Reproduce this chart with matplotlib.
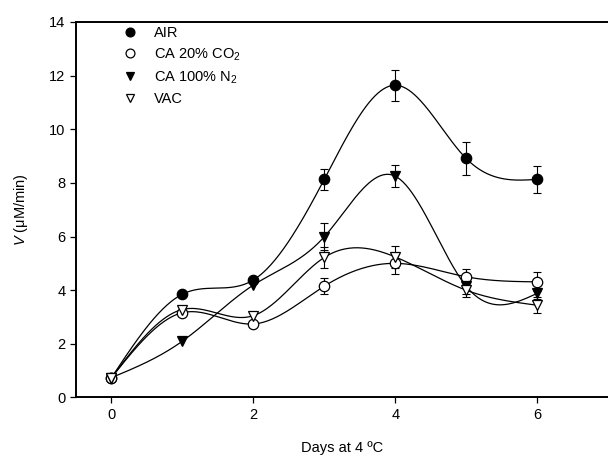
"""V vs days at 4 C, four storage atmospheres."""
import numpy as np
import matplotlib
matplotlib.use('Agg')
import matplotlib.pyplot as plt

plt.rcParams['font.family'] = ['Liberation Sans', 'DejaVu Sans']
plt.rcParams['font.size'] = 10.5
plt.rcParams['mathtext.fontset'] = 'custom'
plt.rcParams['mathtext.rm'] = 'Liberation Sans'
plt.rcParams['mathtext.it'] = 'Liberation Sans:italic'

days = [0, 1, 2, 3, 4, 5, 6]

air = [0.74, 3.85, 4.38, 8.13, 11.64, 8.91, 8.13]
air_err = [0, 0, 0, 0.4, 0.57, 0.6, 0.5]

co2 = [0.74, 3.16, 2.74, 4.15, 5.0, 4.5, 4.31]
co2_err = [0, 0, 0, 0.3, 0.4, 0.3, 0.35]

n2 = [0.74, 2.1, 4.19, 5.99, 8.25, 4.15, 3.88]
n2_err = [0, 0, 0, 0.5, 0.4, 0.3, 0.2]

vac = [0.74, 3.28, 3.05, 5.22, 5.24, 4.0, 3.44]
vac_err = [0, 0, 0, 0.4, 0.4, 0.25, 0.3]


def spline(x, y, n=300):
    # natural cubic spline, just for drawing the smooth curve
    x = np.asarray(x, float)
    y = np.asarray(y, float)
    k = len(x)
    h = np.diff(x)
    A = np.zeros((k, k))
    b = np.zeros(k)
    A[0, 0] = A[-1, -1] = 1
    for i in range(1, k - 1):
        A[i, i - 1] = h[i - 1]
        A[i, i] = 2 * (h[i - 1] + h[i])
        A[i, i + 1] = h[i]
        b[i] = 6 * ((y[i + 1] - y[i]) / h[i] - (y[i] - y[i - 1]) / h[i - 1])
    M = np.linalg.solve(A, b)
    xs = np.linspace(x[0], x[-1], n)
    idx = np.clip(np.searchsorted(x, xs) - 1, 0, k - 2)
    x0, x1 = x[idx], x[idx + 1]
    hh = x1 - x0
    t0 = x1 - xs
    t1 = xs - x0
    ys = (M[idx] * t0**3 + M[idx + 1] * t1**3) / (6 * hh) \
        + (y[idx] / hh - M[idx] * hh / 6) * t0 \
        + (y[idx + 1] / hh - M[idx + 1] * hh / 6) * t1
    return xs, ys


fig = plt.figure(figsize=(6.08, 4.66), dpi=100)
ax = fig.add_axes([0.125, 0.147, 0.875, 0.806])

series = [
    (air, air_err, 'o', 'k', 'AIR'),
    (co2, co2_err, 'o', 'white', 'CA 20% CO$_2$'),
    (n2, n2_err, 'v', 'k', 'CA 100% N$_2$'),
    (vac, vac_err, 'v', 'white', 'VAC'),
]

for y, err, mk, fc, lab in series:
    xs, ys = spline(days, y)
    ax.plot(xs, ys, color='k', linewidth=0.9, zorder=2)
    e = np.array(err)
    m = e > 0
    ax.errorbar(np.array(days)[m], np.array(y)[m], yerr=e[m], fmt='none',
                ecolor='k', elinewidth=0.8, capsize=3, capthick=0.8, zorder=3)
    ax.plot(days, y, linestyle='none', marker=mk, markersize=7.5,
            markerfacecolor=fc, markeredgecolor='k', markeredgewidth=0.9,
            label=lab, zorder=4)

ax.set_xlim(-0.5, 7.0)
ax.set_ylim(0, 14)
ax.set_xticks([0, 2, 4, 6])
ax.set_yticks(range(0, 15, 2))
ax.tick_params(direction='out', length=4, width=0.9)
ax.spines['right'].set_visible(False)
for s in ['left', 'bottom', 'top']:
    ax.spines[s].set_linewidth(1.4)

ax.set_xlabel('Days at 4 ºC', labelpad=14)
ax.set_ylabel('$V$ (μM/min)', labelpad=14)

ax.legend(loc='upper left', bbox_to_anchor=(0.05, 1.025), frameon=False,
          handletextpad=0.6, labelspacing=0.45, fontsize=10.5, markerscale=0.85)

fig.savefig('out.png', dpi=100)
